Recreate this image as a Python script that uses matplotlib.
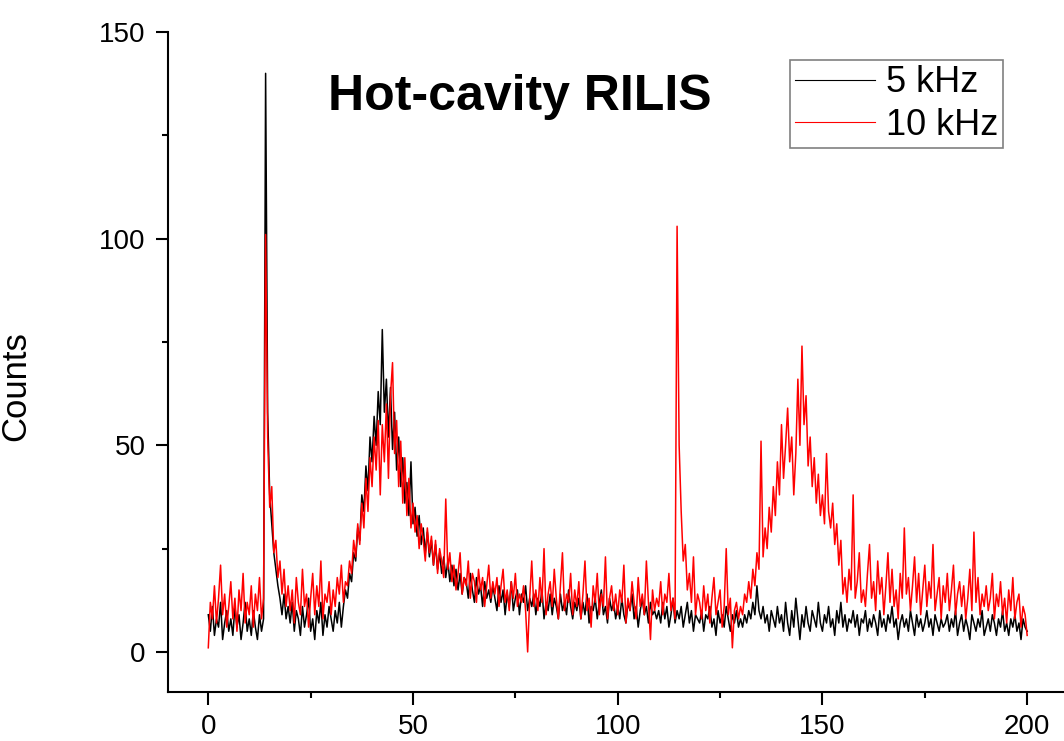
import numpy as np
import matplotlib
matplotlib.use("Agg")
import matplotlib.pyplot as plt
from matplotlib.ticker import MultipleLocator

plt.rcParams['font.family'] = ['Liberation Sans', 'DejaVu Sans']

# channel positions, 0.5 steps from 0 to 200
channels = np.arange(0, 200.5, 0.5)

# 5 kHz counts (20 values per 10 channels)
counts_5khz = [
    9, 5, 11, 4, 8, 6, 12, 3, 7, 10, 5, 8, 4, 11, 6, 9, 3, 7, 12, 5,
    8, 4, 10, 6, 3, 9, 5, 8, 140, 58, 38, 31, 24, 20, 16, 13, 9, 14, 8, 11,
    7, 12, 5, 10, 8, 4, 11, 6, 9, 13, 5, 8, 3, 10, 7, 12, 4, 9, 6, 11,
    8, 5, 10, 7, 12, 6, 11, 15, 13, 19, 17, 24, 22, 30, 27, 38, 34, 45, 39, 52,
    46, 57, 50, 63, 55, 78, 58, 66, 52, 64, 49, 58, 44, 52, 40, 47, 36, 41, 33, 46,
    31, 35, 28, 33, 26, 30, 24, 29, 23, 27, 21, 26, 20, 24, 19, 23, 18, 22, 17, 21,
    16, 20, 15, 19, 14, 18, 17, 13, 19, 15, 12, 18, 14, 16, 11, 17, 13, 15, 12, 16,
    13, 10, 16, 12, 15, 9, 14, 11, 17, 10, 13, 15, 9, 14, 12, 16, 10, 13, 11, 14,
    9, 13, 11, 15, 8, 12, 10, 14, 9, 13, 11, 8, 14, 10, 12, 9, 15, 11, 8, 12,
    10, 13, 8, 12, 9, 14, 7, 11, 10, 13, 8, 12, 15, 9, 11, 7, 13, 10, 12, 8,
    11, 8, 13, 9, 7, 12, 10, 14, 8, 11, 6, 10, 13, 9, 11, 7, 12, 9, 10, 8,
    10, 7, 12, 8, 11, 6, 9, 13, 7, 10, 8, 11, 6, 9, 12, 7, 10, 5, 9, 8,
    7, 10, 5, 9, 8, 11, 6, 8, 4, 10, 7, 9, 6, 11, 8, 5, 9, 7, 10, 6,
    8, 6, 9, 7, 10, 8, 12, 9, 16, 10, 8, 11, 7, 9, 5, 10, 8, 6, 11, 7,
    9, 5, 12, 7, 4, 10, 6, 13, 8, 3, 9, 6, 11, 7, 5, 10, 8, 6, 12, 7,
    5, 9, 7, 11, 6, 8, 4, 10, 7, 12, 6, 9, 5, 8, 7, 10, 6, 9, 4, 8,
    7, 10, 5, 8, 6, 9, 7, 4, 10, 6, 8, 5, 9, 7, 11, 6, 8, 3, 7, 9,
    6, 8, 5, 10, 7, 4, 9, 6, 8, 5, 7, 10, 6, 8, 4, 9, 7, 5, 8, 6,
    7, 9, 5, 8, 6, 10, 4, 7, 9, 5, 8, 6, 3, 9, 7, 5, 8, 6, 10, 4,
    6, 8, 5, 9, 7, 4, 8, 6, 10, 5, 7, 4, 8, 6, 9, 5, 7, 3, 8, 6,
    5,
]

# 10 kHz counts
counts_10khz = [
    1, 12, 8, 16, 7, 13, 21, 9, 14, 6, 11, 17, 8, 13, 5, 15, 10, 19, 7, 12,
    9, 16, 6, 14, 10, 18, 8, 13, 101, 52, 35, 40, 24, 27, 18, 22, 14, 20, 11, 16,
    10, 15, 7, 18, 12, 9, 20, 11, 14, 6, 13, 19, 9, 16, 11, 22, 8, 14, 12, 17,
    9, 15, 11, 18, 14, 21, 12, 17, 16, 22, 19, 27, 23, 31, 26, 36, 30, 42, 34, 47,
    40, 52, 44, 56, 38, 55, 46, 60, 42, 62, 70, 48, 56, 40, 51, 36, 47, 33, 42, 30,
    36, 29, 33, 25, 31, 27, 22, 30, 24, 28, 21, 27, 19, 25, 22, 18, 37, 20, 24, 17,
    21, 15, 19, 24, 14, 18, 16, 22, 13, 19, 17, 12, 20, 15, 18, 11, 16, 21, 13, 17,
    14, 18, 11, 16, 20, 12, 15, 10, 17, 13, 19, 11, 14, 12, 16, 10, 0, 13, 22, 11,
    15, 10, 18, 12, 25, 9, 14, 17, 11, 20, 13, 8, 16, 24, 10, 14, 12, 19, 9, 15,
    11, 17, 8, 14, 22, 10, 13, 6, 16, 12, 19, 9, 14, 11, 23, 8, 13, 16, 10, 14,
    9, 15, 12, 21, 7, 13, 10, 17, 12, 8, 18, 11, 14, 9, 22, 12, 3, 15, 10, 13,
    11, 17, 9, 14, 12, 19, 10, 13, 8, 103, 50, 34, 22, 26, 15, 19, 12, 23, 9, 14,
    12, 8, 16, 10, 14, 7, 13, 18, 9, 12, 15, 6, 11, 25, 9, 13, 1, 10, 12, 8,
    11, 9, 14, 12, 17, 13, 20, 16, 24, 20, 51, 23, 30, 25, 35, 29, 40, 33, 46, 38,
    55, 42, 50, 59, 46, 52, 38, 48, 66, 50, 74, 55, 62, 45, 52, 40, 47, 36, 43, 33,
    38, 31, 48, 34, 30, 36, 26, 31, 21, 27, 14, 18, 12, 20, 15, 38, 13, 17, 24, 12,
    15, 11, 19, 26, 13, 17, 10, 22, 14, 18, 9, 16, 24, 12, 20, 11, 15, 8, 19, 13,
    30, 14, 18, 10, 16, 23, 12, 19, 9, 15, 21, 11, 17, 13, 26, 10, 14, 18, 8, 16,
    12, 19, 10, 15, 21, 9, 14, 17, 11, 16, 8, 13, 20, 10, 29, 12, 18, 9, 14, 11,
    16, 10, 13, 19, 8, 14, 11, 17, 9, 13, 7, 15, 10, 18, 8, 12, 14, 6, 11, 9,
    4,
]

fig = plt.figure(figsize=(10.64, 7.41), dpi=100)
ax = fig.add_axes([0.1579, 0.0661, 0.8421, 0.8907])

ax.plot(channels, counts_5khz, color='black', lw=1.1, label='5 kHz')
ax.plot(channels, counts_10khz, color='red', lw=1.1, label='10 kHz')

ax.set_xlim(-9.84, 209.0)
ax.set_ylim(-9.7, 150)

ax.spines['top'].set_visible(False)
ax.spines['right'].set_visible(False)
for s in ['left', 'bottom']:
    ax.spines[s].set_linewidth(1.5)

ax.xaxis.set_major_locator(MultipleLocator(50))
ax.xaxis.set_minor_locator(MultipleLocator(25))
ax.yaxis.set_major_locator(MultipleLocator(50))
ax.yaxis.set_minor_locator(MultipleLocator(25))
ax.tick_params(which='major', direction='out', length=9, width=1.5,
               labelsize=20, pad=7)
ax.tick_params(which='minor', direction='out', length=4.5, width=1.5)

ax.set_ylabel('Counts', fontsize=25)
ax.yaxis.set_label_coords(-0.152, 0.4635)

ax.text(0.393, 0.901, 'Hot-cavity RILIS', transform=ax.transAxes,
        fontsize=36, fontweight='bold', ha='center', va='center')

leg = ax.legend(loc='upper left', bbox_to_anchor=(790 / 1064, 1 - 60 / 741),
                bbox_transform=fig.transFigure, fontsize=26, frameon=True,
                fancybox=False, edgecolor='#808080', framealpha=1,
                handlelength=2.2, handletextpad=0.3, labelspacing=0.2,
                borderpad=0.15, borderaxespad=0)
leg.get_frame().set_linewidth(1.2)
for line in leg.get_lines():
    line.set_linewidth(0.8)

fig.savefig('out.png', dpi=100)
